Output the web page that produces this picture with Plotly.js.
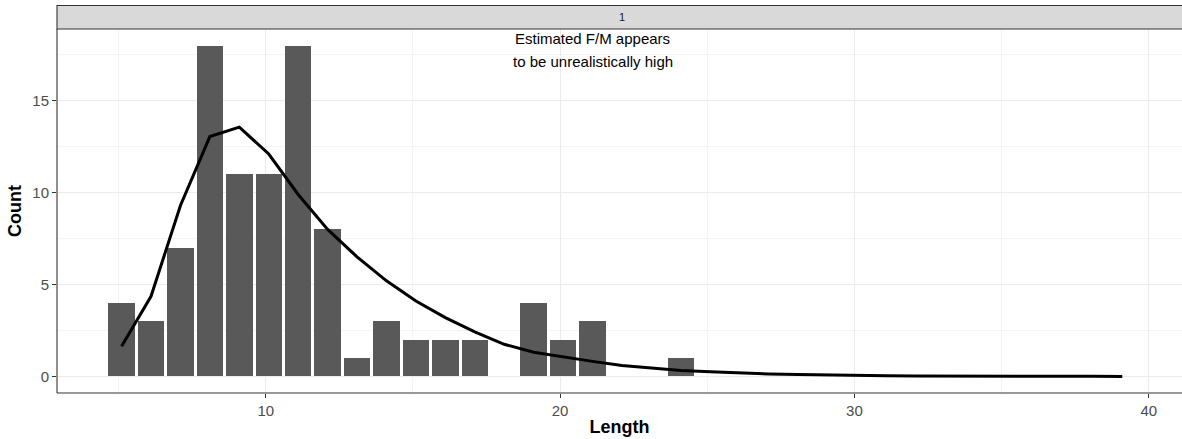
<!DOCTYPE html>
<html>
<head>
<meta charset="utf-8">
<script src="https://cdn.plot.ly/plotly-3.0.1.min.js"></script>
<style>
html,body{margin:0;padding:0;overflow:hidden;background:#fff;}
#chart{width:1182px;height:439px;}
</style>
</head>
<body>
<div id="chart"></div>
<script>
// Data
const lengths = [5.1,6.1,7.1,8.1,9.1,10.1,11.1,12.1,13.1,14.1,15.1,16.1,17.1,18.1,19.1,20.1,21.1,22.1,23.1,24.1,25.1,26.1,27.1,28.1,29.1,30.1,31.1,32.1,33.1,34.1,35.1,36.1,37.1,38.1,39.1];
const observedCounts = [4,3,7,18,11,11,18,8,1,3,2,2,2,0,4,2,3,0,0,1,0,0,0,0,0,0,0,0,0,0,0,0,0,0,0];
const predictedCounts = [1.64,4.36,9.3,13.05,13.56,12.1,9.9,8.0,6.5,5.2,4.1,3.2,2.42,1.75,1.32,1.05,0.82,0.6,0.46,0.33,0.25,0.18,0.13,0.1,0.07,0.05,0.04,0.03,0.02,0.015,0.01,0.008,0.006,0.005,0.004];
const stripLabel = "1";
const noteLines = ["Estimated F/M appears", "to be unrealistically high"];
const xTicks = [10,20,30,40];
const yTicks = [0,5,10,15];

const FONT = "Liberation Sans, Arial, sans-serif";

const traces = [
  {
    type: 'bar', x: lengths, y: observedCounts, width: 0.9,
    marker: {color: '#595959', line: {width: 0}},
    hoverinfo: 'skip', showlegend: false
  },
  {
    type: 'scatter', mode: 'lines', x: lengths, y: predictedCounts,
    line: {color: '#000000', width: 3},
    hoverinfo: 'skip', showlegend: false
  }
];

const stripH = 23.5/364;

const layout = {
  width: 1182, height: 439,
  margin: {l: 57, r: 0, t: 29, b: 46},
  paper_bgcolor: '#ffffff', plot_bgcolor: '#ffffff',
  font: {family: FONT, color: '#4d4d4d'},
  showlegend: false,
  bargap: 0,
  xaxis: {
    range: [2.905, 41.13],
    tickvals: xTicks, ticktext: xTicks.map(String),
    ticks: 'outside', ticklen: 4, tickwidth: 1.1, tickcolor: '#333333',
    tickfont: {size: 15, color: '#4d4d4d', family: FONT},
    showgrid: true, gridcolor: '#ebebeb', gridwidth: 1.1,
    minor: {dtick: 10, tick0: 5, showgrid: true, gridcolor: '#f0f0f0', gridwidth: 0.7, ticks: ''},
    showline: false, zeroline: false,
    title: {text: '<b>Length</b>', font: {size: 18, color: '#000000', family: FONT}, standoff: 2}
  },
  yaxis: {
    range: [-0.9, 18.9],
    tickvals: yTicks, ticktext: yTicks.map(String),
    ticks: 'outside', ticklen: 4, tickwidth: 1.1, tickcolor: '#333333',
    tickfont: {size: 15, color: '#4d4d4d', family: FONT},
    showgrid: true, gridcolor: '#ebebeb', gridwidth: 1.1,
    minor: {dtick: 5, tick0: 2.5, showgrid: true, gridcolor: '#f0f0f0', gridwidth: 0.7, ticks: ''},
    showline: false, zeroline: false,
    title: {text: '<b>Count</b>', font: {size: 18, color: '#000000', family: FONT}, standoff: 6}
  },
  shapes: [
    {type: 'line', xref: 'paper', yref: 'paper', x0: 0, x1: 0, y0: 0, y1: 1,
     line: {color: '#333333', width: 1.1}, layer: 'above'},
    {type: 'line', xref: 'paper', yref: 'paper', x0: 0, x1: 1, y0: 0, y1: 0,
     line: {color: '#333333', width: 1.1}, layer: 'above'},
    {type: 'rect', xref: 'paper', yref: 'paper', x0: 0, x1: 1.02, y0: 1, y1: 1 + stripH,
     fillcolor: '#d9d9d9', line: {color: '#333333', width: 1.1}, layer: 'above'}
  ],
  annotations: [
    {xref: 'x', yref: 'paper', x: 22.1, y: 1 + stripH/2, text: stripLabel, showarrow: false,
     xanchor: 'center', yanchor: 'middle', font: {size: 11, color: '#1a1a1a', family: FONT}},
    {xref: 'x', yref: 'paper', x: 21.1, y: (393-38.3)/364, text: noteLines[0], showarrow: false,
     xanchor: 'center', yanchor: 'middle', font: {size: 15, color: '#000000', family: FONT}},
    {xref: 'x', yref: 'paper', x: 21.1, y: (393-61)/364, text: noteLines[1], showarrow: false,
     xanchor: 'center', yanchor: 'middle', font: {size: 15, color: '#000000', family: FONT}}
  ]
};

Plotly.newPlot('chart', traces, layout, {displayModeBar: false, staticPlot: true});
</script>
</body>
</html>
